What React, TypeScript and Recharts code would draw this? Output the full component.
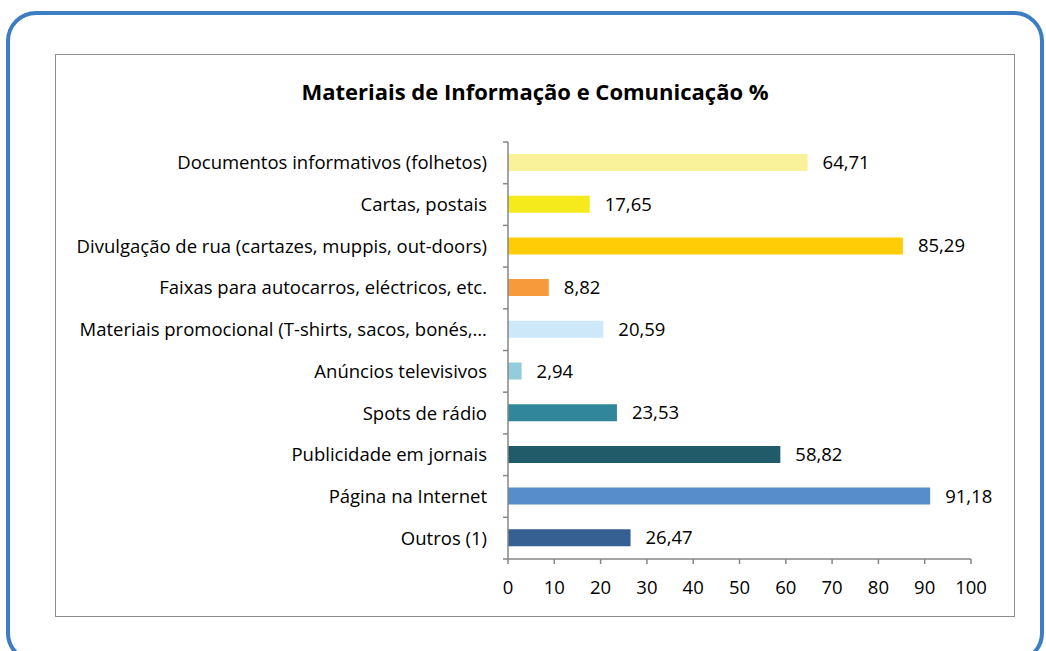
import React from 'react';
import { BarChart, Bar, XAxis, YAxis, LabelList, Cell } from 'recharts';

const categories = [
  'Documentos informativos (folhetos)',
  'Cartas, postais',
  'Divulgação de rua (cartazes, muppis, out-doors)',
  'Faixas para autocarros, eléctricos, etc.',
  'Materiais promocional (T-shirts, sacos, bonés,…',
  'Anúncios televisivos',
  'Spots de rádio',
  'Publicidade em jornais',
  'Página na Internet',
  'Outros (1)',
];
const values = [64.71, 17.65, 85.29, 8.82, 20.59, 2.94, 23.53, 58.82, 91.18, 26.47];
const colors = ['#FAF29A', '#F5EA1C', '#FFCC05', '#F79A3B', '#CDE8F8', '#93CDDD', '#31869C', '#215A68', '#588DCB', '#376092'];
const xTicks = [0, 10, 20, 30, 40, 50, 60, 70, 80, 90, 100];

const data = categories.map((name, i) => ({ name, value: values[i], color: colors[i] }));

const CW = 960;
const CH = 563;
const M = { top: 88, right: 45, bottom: 28, left: 0 };
const XH = 30;
const BAND = (CH - M.top - M.bottom - XH) / categories.length;
const FONT = '"Open Sans", sans-serif';
const FS = 18.5;
const AXIS = '#868686';

const YTick = (props: any) => {
  const { x, y, payload, index } = props;
  const lx = x + 16;
  return (
    <g>
      <line x1={lx} x2={lx + 5} y1={y - BAND / 2} y2={y - BAND / 2} stroke={AXIS} strokeWidth={1.5} />
      {index === categories.length - 1 && (
        <line x1={lx} x2={lx + 5} y1={y + BAND / 2} y2={y + BAND / 2} stroke={AXIS} strokeWidth={1.5} />
      )}
      <text x={x} y={y} dy="0.35em" textAnchor="end" fill="#000" fontSize={FS} fontFamily={FONT}>
        {payload.value}
      </text>
    </g>
  );
};

export default function App() {
  return (
    <div style={{ position: 'absolute', left: 0, top: 0, width: 1046, height: 651, overflow: 'hidden', background: '#fff' }}>
      <div
        style={{
          position: 'absolute',
          left: 6,
          top: 11,
          width: 1030,
          height: 644,
          border: '4px solid #3C7DC4',
          borderRadius: 30,
        }}
      />
      <div
        style={{
          position: 'absolute',
          left: 55,
          top: 54,
          width: CW,
          height: CH,
          border: '1.5px solid #8C8C8C',
          boxSizing: 'border-box',
        }}
      />
      <div
        style={{
          position: 'absolute',
          left: 55,
          top: 75,
          width: CW,
          textAlign: 'center',
          fontFamily: FONT,
          fontWeight: 'bold',
          fontSize: 22,
          lineHeight: '32px',
          color: '#000',
        }}
      >
        Materiais de Informação e Comunicação %
      </div>
      <div style={{ position: 'absolute', left: 56, top: 54 }}>
        <BarChart width={CW} height={CH} data={data} layout="vertical" margin={M}>
          <XAxis
            type="number"
            domain={[0, 100]}
            ticks={xTicks}
            interval={0}
            height={XH}
            axisLine={{ stroke: AXIS, strokeWidth: 1.5 }}
            tickLine={{ stroke: AXIS, strokeWidth: 1.5 }}
            tickSize={5}
            tickMargin={17}
            tick={{ fill: '#000', fontSize: FS, fontFamily: FONT }}
          />
          <YAxis
            type="category"
            dataKey="name"
            width={452}
            interval={0}
            axisLine={{ stroke: AXIS, strokeWidth: 1.5 }}
            tickLine={false}
            tickSize={5}
            tickMargin={16}
            tick={<YTick />}
          />
          <Bar dataKey="value" barSize={17} isAnimationActive={false}>
            {data.map((d, i) => (
              <Cell key={i} fill={d.color} />
            ))}
            <LabelList
              dataKey="value"
              position="right"
              offset={15}
              fill="#000"
              fontSize={FS}
              fontFamily={FONT}
              formatter={(v: any) => Number(v).toFixed(2).replace('.', ',')}
            />
          </Bar>
        </BarChart>
      </div>
    </div>
  );
}
